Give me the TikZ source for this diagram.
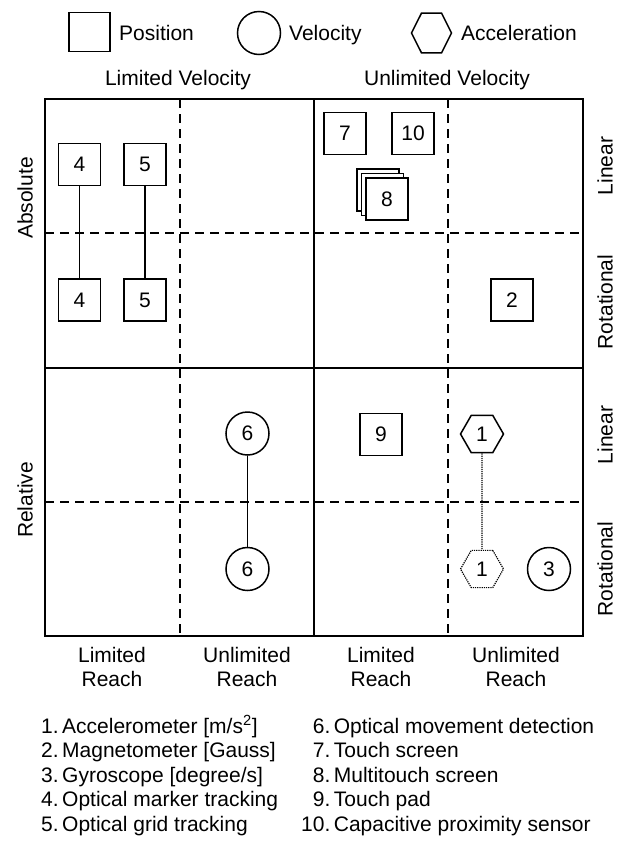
\documentclass[tikz,border=0pt]{standalone}
\usepackage{fontspec}
\setmainfont{Liberation Sans}
\usetikzlibrary{shapes.geometric}
\begin{document}
\begin{tikzpicture}[x=1pt,y=-1pt,
  every node/.style={font=\fontsize{21}{24.5}\selectfont, inner sep=0pt},
  posbox/.style={draw, line width=1.5pt, minimum size=42pt, fill=white},
  velcirc/.style={draw, circle, line width=1.5pt, minimum size=43pt},
  hexa/.style={draw, regular polygon, regular polygon sides=6, line width=1.5pt, minimum size=43pt},
  gridsolid/.style={line width=1.8pt},
  griddash/.style={line width=1.7pt, dash pattern=on 9pt off 6pt},
  link/.style={line width=1.5pt},
  dotlink/.style={line width=1.2pt, densely dotted},
  rlabel/.style={rotate=90},
]
\useasboundingbox (0,0) rectangle (617,841);

% legend
\node[posbox, minimum width=41pt, minimum height=39pt] (lpos) at (89.5,32) {};
\node[anchor=base west] (lpost) at (119,40) {Position};
\node[velcirc] (lvel) at (259,33) {};
\node[anchor=base west] (lvelt) at (289,40) {Velocity};
\node[hexa, minimum size=40pt, yscale=1.15, transform shape] (lacc) at (431.5,33) {};
\node[anchor=base west] (lacct) at (461,40) {Acceleration};

% column headers
\node[anchor=base] (lv) at (178,85) {Limited Velocity};
\node[anchor=base] (uv) at (447,85) {Unlimited Velocity};

% grid
\draw[griddash] (180,99) -- (180,636);
\draw[griddash] (448,99) -- (448,636);
\draw[griddash] (45,233) -- (583,233);
\draw[griddash] (45,502) -- (583,502);
\draw[gridsolid] (314,99) -- (314,636);
\draw[gridsolid] (45,368) -- (583,368);
\draw[gridsolid] (45,99) rectangle (583,636);

% side labels
\node[rlabel] (abs) at (25,198) {Absolute};
\node[rlabel] (rel) at (25,500) {Relative};
\node[rlabel] (lin1) at (605,166) {Linear};
\node[rlabel] (rot1) at (605,302) {Rotational};
\node[rlabel] (lin2) at (605,435) {Linear};
\node[rlabel] (rot2) at (605,569) {Rotational};

% bottom labels
\node[align=center] (b1) at (112,667) {Limited\\Reach};
\node[align=center] (b2) at (247,667) {Unlimited\\Reach};
\node[align=center] (b3) at (381,667) {Limited\\Reach};
\node[align=center] (b4) at (516,667) {Unlimited\\Reach};

% sensors
\node[posbox] (n4a) at (79.5,164.5) {4};
\node[posbox] (n4b) at (79.5,300) {4};
\node[posbox] (n5a) at (145,164.5) {5};
\node[posbox] (n5b) at (145,300) {5};
\node[posbox] (n7) at (345,133.5) {7};
\node[posbox] (n10) at (413,133.5) {10};
\node[posbox] (n8c) at (378,190) {};
\node[posbox] (n8b) at (382.5,194.5) {};
\node[posbox] (n8) at (387,199) {8};
\node[posbox] (n2) at (512,300) {2};
\node[velcirc] (n6a) at (247.5,433.5) {6};
\node[velcirc] (n6b) at (247.5,569) {6};
\node[posbox] (n9) at (381,434.5) {9};
\node[hexa] (n1a) at (482,434) {1};
\node[hexa, line width=1.2pt, densely dotted] (n1b) at (482,569) {1};
\node[velcirc] (n3) at (549,569) {3};

\draw[link] (n4a) -- (n4b);
\draw[link] (n5a) -- (n5b);
\draw[link] (n6a) -- (n6b);
\draw[dotlink] (n1a) -- (n1b);

% list
\node[anchor=base west] (listL) at (41,733) {\begin{tabular}[t]{@{}r@{\hspace{3.5pt}}l@{}}
1. & Accelerometer [m/s\textsuperscript{2}]\\
2. & Magnetometer [Gauss]\\
3. & Gyroscope [degree/s]\\
4. & Optical marker tracking\\
5. & Optical grid tracking
\end{tabular}};
\node[anchor=base west] (listR) at (301,733) {\begin{tabular}[t]{@{}r@{\hspace{3.5pt}}l@{}}
6. & Optical movement detection\\
7. & Touch screen\\
8. & Multitouch screen\\
9. & Touch pad\\
10. & Capacitive proximity sensor
\end{tabular}};
\end{tikzpicture}
\end{document}
